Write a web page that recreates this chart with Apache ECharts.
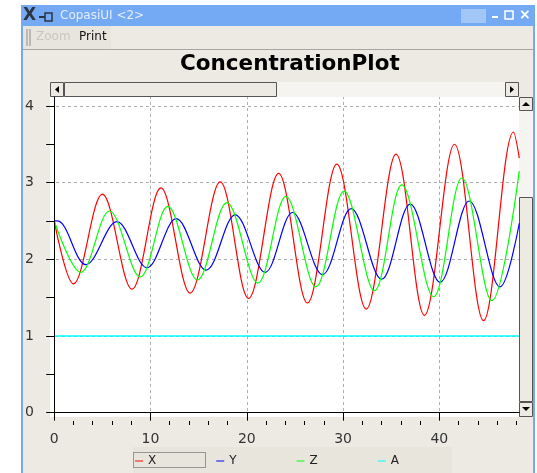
<!DOCTYPE html>
<html lang="en">

<head>
  <meta charset="UTF-8">
  <title>ConcentrationPlot</title>
  <script src="https://cdn.jsdelivr.net/npm/echarts@6.0.0/dist/echarts.min.js"></script>
  <style>
    html, body { margin: 0; padding: 0; background: #fff; }
  </style>
</head>

<body>
  <div id="main" style="width: 537px;height:473px;"></div>
  <script>
    // values: start, peaks/troughs, last point
    var xTime = [0, 2.0, 5.0, 8.07, 11.08, 14.12, 17.24, 20.18, 23.3, 26.3, 29.35, 32.4, 35.5, 38.45, 41.57, 44.58, 47.7, 48.3];
    var xConc = [2.5, 1.68, 2.85, 1.61, 2.93, 1.56, 3.01, 1.49, 3.12, 1.43, 3.24, 1.35, 3.37, 1.27, 3.50, 1.20, 3.66, 3.32];

    var yTime = [0, 0.35, 3.29, 6.51, 9.63, 12.67, 15.78, 18.8, 21.9, 24.75, 27.86, 30.84, 34.0, 36.97, 40.08, 43.1, 46.3, 48.3];
    var yConc = [2.5, 2.5, 1.93, 2.49, 1.89, 2.53, 1.86, 2.58, 1.83, 2.61, 1.80, 2.66, 1.74, 2.72, 1.70, 2.76, 1.64, 2.47];

    var zTime = [0, 2.77, 5.74, 8.93, 11.8, 14.88, 17.93, 21.15, 24.06, 27.18, 30.1, 33.26, 36.1, 39.4, 42.34, 45.45, 48.3];
    var zConc = [2.5, 1.83, 2.63, 1.77, 2.69, 1.73, 2.74, 1.69, 2.82, 1.64, 2.89, 1.59, 2.97, 1.51, 3.06, 1.46, 3.15];

    var aTime = [0, 48.3];
    var aConc = [1, 1];

    // axis ticks / labels
    var xMajor = [0, 10, 20, 30, 40];
    var xMinor = [2, 4, 6, 8, 12, 14, 16, 18, 22, 24, 26, 28, 32, 34, 36, 38, 42, 44, 46, 48];
    var yTicks = [0, 0.5, 1, 1.5, 2, 2.5, 3, 3.5, 4];
    var yLabels = [0, 1, 2, 3, 4];

    function pairs(t, v) {
      return t.map(function (x, i) { return [x, v[i]]; });
    }

    var font = 'DejaVu Sans';
    var blue = '#74aaf3';
    var beige = '#edeae3';
    var track = '#f5f4f1';

    // window chrome (title bar, toolbar, scroll bars)
    var chrome = [
      { type: 'rect', shape: { x: 21, y: 5, width: 514, height: 468 }, style: { fill: beige } },
      { type: 'rect', shape: { x: 21, y: 5, width: 514, height: 21 }, style: { fill: blue } },
      { type: 'rect', shape: { x: 21, y: 26, width: 2, height: 447 }, style: { fill: blue } },
      { type: 'rect', shape: { x: 533, y: 26, width: 2, height: 447 }, style: { fill: blue } },
      { type: 'text', x: 23, y: 7, style: { text: 'X', font: 'bold 17px ' + font, fill: '#2d3340' } },
      { type: 'line', shape: { x1: 39, y1: 17, x2: 45, y2: 17 }, style: { stroke: '#2d3340', lineWidth: 2 } },
      { type: 'rect', shape: { x: 45, y: 13, width: 7, height: 8 }, style: { fill: 'none', stroke: '#2d3340', lineWidth: 1.5 } },
      { type: 'text', x: 60, y: 10, style: { text: 'CopasiUI <2>', font: '12px ' + font, fill: '#e4edfb' } },
      { type: 'rect', shape: { x: 461, y: 9, width: 25, height: 14 }, style: { fill: '#a2c7f6' } },
      { type: 'rect', shape: { x: 492, y: 16, width: 6, height: 2 }, style: { fill: '#fff' } },
      { type: 'rect', shape: { x: 505, y: 11, width: 8, height: 8 }, style: { fill: 'none', stroke: '#fff', lineWidth: 1.5 } },
      { type: 'text', x: 519, y: 8, style: { text: '×', font: 'bold 14px ' + font, fill: '#fff' } },
      // toolbar
      { type: 'rect', shape: { x: 23, y: 26, width: 88, height: 23 }, style: { fill: '#e8e5de' } },
      { type: 'line', shape: { x1: 27, y1: 29, x2: 27, y2: 46 }, style: { stroke: '#8f8c86' } },
      { type: 'line', shape: { x1: 30, y1: 29, x2: 30, y2: 46 }, style: { stroke: '#8f8c86' } },
      { type: 'text', x: 36, y: 31, style: { text: 'Zoom', font: '12px ' + font, fill: '#c9c6bf' } },
      { type: 'text', x: 79, y: 31, style: { text: 'Print', font: '12px ' + font, fill: '#111' } },
      { type: 'line', shape: { x1: 23, y1: 49.5, x2: 533, y2: 49.5 }, style: { stroke: '#a8a59e' } },
      // plot canvas
      { type: 'rect', shape: { x: 50, y: 97, width: 469, height: 320 }, style: { fill: '#fff' } },
      // horizontal scroll bar
      { type: 'rect', shape: { x: 50, y: 82, width: 469, height: 15 }, style: { fill: track } },
      { type: 'rect', shape: { x: 50.5, y: 82.5, width: 13, height: 14 }, style: { fill: beige, stroke: '#555' } },
      { type: 'polygon', shape: { points: [[59, 86], [59, 93], [55, 89.5]] }, style: { fill: '#000' } },
      { type: 'rect', shape: { x: 64.5, y: 82.5, width: 212, height: 14 }, style: { fill: beige, stroke: '#555' } },
      { type: 'rect', shape: { x: 505.5, y: 82.5, width: 13, height: 14 }, style: { fill: beige, stroke: '#555' } },
      { type: 'polygon', shape: { points: [[510, 86], [510, 93], [514, 89.5]] }, style: { fill: '#000' } },
      // vertical scroll bar
      { type: 'rect', shape: { x: 519, y: 97, width: 14, height: 320 }, style: { fill: track } },
      { type: 'rect', shape: { x: 519.5, y: 97.5, width: 13, height: 13 }, style: { fill: beige, stroke: '#555' } },
      { type: 'polygon', shape: { points: [[522, 106], [530, 106], [526, 102]] }, style: { fill: '#000' } },
      { type: 'rect', shape: { x: 519.5, y: 197.5, width: 13, height: 204 }, style: { fill: beige, stroke: '#555' } },
      { type: 'rect', shape: { x: 519.5, y: 402.5, width: 13, height: 14 }, style: { fill: beige, stroke: '#555' } },
      { type: 'polygon', shape: { points: [[522, 407], [530, 407], [526, 411]] }, style: { fill: '#000' } },
      // legend strip
      { type: 'rect', shape: { x: 133, y: 447, width: 319, height: 26 }, style: { fill: '#e8e5dd' } },
      { type: 'rect', shape: { x: 133.5, y: 452.5, width: 72, height: 15 }, style: { fill: 'none', stroke: '#444', lineDash: [1, 1] } }
    ];

    // dashed grid lines
    var gridLines = xMajor.map(function (v) { return { xAxis: v }; })
      .concat(yLabels.map(function (v) { return { yAxis: v }; }));

    var myChart = echarts.init(document.getElementById('main'));

    var option = {
      animation: false,
      backgroundColor: '#fff',
      graphic: { elements: chrome },
      title: {
        text: 'ConcentrationPlot',
        left: 180,
        top: 53,
        padding: 0,
        textStyle: { fontFamily: font, fontSize: 21.5, fontWeight: 'bold', color: '#000' }
      },
      legend: {
        data: ['X', 'Y', 'Z', 'A'],
        left: 135,
        top: 455,
        padding: 0,
        icon: 'rect',
        itemWidth: 8,
        itemHeight: 1,
        itemGap: 60,
        textStyle: { fontFamily: font, fontSize: 12, color: '#222' }
      },
      grid: {
        left: 50,
        right: 18,
        top: 97,
        bottom: 56,
        outerBoundsMode: 'none'
      },
      xAxis: [
        {
          type: 'value',
          position: 'bottom',
          min: -0.436,
          max: 48.27,
          offset: 4,
          z: 5,
          axisLine: { lineStyle: { color: '#000', width: 1 } },
          axisTick: { customValues: xMajor, length: 8, lineStyle: { color: '#000' } },
          axisLabel: { customValues: xMajor, margin: 11, fontFamily: font, fontSize: 14, color: '#333' },
          splitLine: { show: false }
        },
        {
          type: 'value',
          position: 'bottom',
          min: -0.436,
          max: 48.27,
          offset: 4,
          z: 5,
          axisLine: { show: false },
          axisTick: { customValues: xMinor, length: 4, lineStyle: { color: '#000' } },
          axisLabel: { show: false },
          splitLine: { show: false }
        }
      ],
      yAxis: {
        type: 'value',
        min: -0.056,
        max: 4.116,
        offset: 2,
        z: 5,
        axisLine: { show: true, lineStyle: { color: '#000', width: 1 } },
        axisTick: { show: true, customValues: yTicks, length: 8, lineStyle: { color: '#000' } },
        axisLabel: { customValues: yLabels, margin: 14, fontFamily: font, fontSize: 14, color: '#333' },
        splitLine: { show: false }
      },
      series: [
        {
          name: 'X', type: 'line', data: pairs(xTime, xConc), smooth: 0.36,
          showSymbol: false, color: '#ff0000', lineStyle: { width: 1.2 },
          markLine: {
            z: 1, silent: true, symbol: ['none', 'none'], label: { show: false },
            lineStyle: { type: [3, 3], color: '#adadad', width: 1 },
            emphasis: { disabled: true },
            data: gridLines
          }
        },
        {
          name: 'Y', type: 'line', data: pairs(yTime, yConc), smooth: 0.36,
          showSymbol: false, color: '#0000ff', lineStyle: { width: 1.2 }
        },
        {
          name: 'Z', type: 'line', data: pairs(zTime, zConc), smooth: 0.36,
          showSymbol: false, color: '#00ff00', lineStyle: { width: 1.2 }
        },
        {
          name: 'A', type: 'line', data: pairs(aTime, aConc),
          showSymbol: false, color: '#00ffff', lineStyle: { width: 1.5 }
        }
      ]
    };

    myChart.setOption(option);
  </script>
</body>

</html>
